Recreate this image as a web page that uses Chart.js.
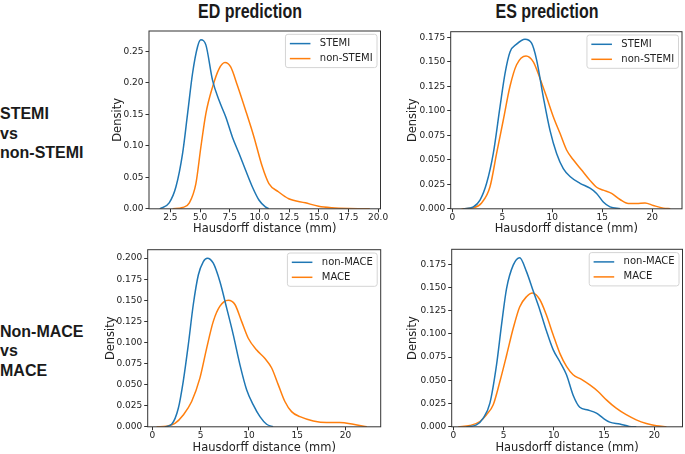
<!DOCTYPE html>
<html lang="en">
<head>
    <meta charset="UTF-8">
    <title>Hausdorff distance density</title>
    <script src="https://cdn.jsdelivr.net/npm/chart.js"></script>
    <style>
        html, body { margin: 0; padding: 0; background: #fff; overflow: hidden; }
        body { width: 685px; height: 454px; position: relative; }
        canvas { position: absolute; }
        .head {
            position: absolute; top: 0; white-space: nowrap;
            font: bold 19.5px "Liberation Sans", Arial, sans-serif; line-height: 22px; color: #1a1a1a;
            transform: translateX(-50%) scaleX(0.82);
        }
        .row {
            position: absolute; left: 0; white-space: nowrap;
            font: bold 16px "Liberation Sans", Arial, sans-serif; line-height: 19.5px; color: #1a1a1a;
        }
    </style>
</head>
<body>
    <div class="head" style="left:250px">ED prediction</div>
    <div class="head" style="left:547px">ES prediction</div>
    <div class="row" style="top:104px">STEMI<br>vs<br>non-STEMI</div>
    <div class="row" style="top:321.7px">Non-MACE<br>vs<br>MACE</div>

    <canvas id="edStemi"></canvas>
    <canvas id="esStemi"></canvas>
    <canvas id="edMace"></canvas>
    <canvas id="esMace"></canvas>

    <script>
        // ED, STEMI vs non-STEMI
        const edStemiX = [1.6, 2.4, 2.97, 3.53, 3.95, 4.37, 4.79, 5.07, 5.49, 6.05, 6.6, 7.16, 7.72, 8.28, 8.84, 9.4, 9.96, 10.5, 10.8];
        const edStemiY = [0, 0.0095, 0.035, 0.088, 0.151, 0.215, 0.257, 0.268, 0.26, 0.204, 0.172, 0.146, 0.114, 0.088, 0.061, 0.035, 0.014, 0.003, 0];
        const edNonStemiX = [2.7, 3.53, 4.1, 4.65, 5.07, 5.49, 6.05, 6.6, 7.1, 7.58, 8.14, 8.84, 9.54, 10.24, 10.8, 11.6, 12.47, 13.87, 14.99, 16.1, 17.5, 19.3];
        const edNonStemiY = [0, 0.002, 0.0095, 0.04, 0.098, 0.151, 0.193, 0.222, 0.232, 0.225, 0.196, 0.156, 0.114, 0.067, 0.04, 0.027, 0.016, 0.0095, 0.004, 0.0016, 0.0004, 0];

        // ES, STEMI vs non-STEMI
        const esStemiX = [1.1, 2.1, 2.77, 3.43, 4.1, 4.77, 5.27, 5.77, 6.43, 7.27, 7.93, 8.43, 9.1, 9.77, 10.43, 11.1, 11.77, 12.77, 13.77, 14.43, 15.1, 15.77, 16.8];
        const esStemiY = [0, 0.002, 0.0089, 0.026, 0.0565, 0.104, 0.138, 0.16, 0.168, 0.173, 0.169, 0.152, 0.114, 0.08, 0.0565, 0.041, 0.033, 0.026, 0.021, 0.0157, 0.007, 0.002, 0];
        const esNonStemiX = [0.93, 2.1, 2.93, 3.77, 4.43, 5.1, 5.77, 6.43, 7.37, 8.1, 8.77, 9.43, 10.1, 10.77, 11.43, 12.1, 12.93, 13.77, 14.43, 15.1, 15.93, 16.77, 17.6, 18.43, 19.27, 20.1, 21.1, 21.8];
        const esNonStemiY = [0, 0.001, 0.006, 0.0225, 0.0565, 0.0906, 0.125, 0.147, 0.156, 0.15, 0.133, 0.114, 0.094, 0.077, 0.06, 0.05, 0.0395, 0.029, 0.022, 0.019, 0.0157, 0.0095, 0.0054, 0.0054, 0.006, 0.0034, 0.0007, 0];

        // ED, non-MACE vs MACE
        const edNonMaceX = [1.3, 2.0, 2.69, 3.2, 3.72, 4.24, 4.76, 5.28, 5.69, 6.31, 7.0, 7.69, 8.38, 9.07, 9.76, 10.45, 11.14, 11.83, 12.5];
        const edNonMaceY = [0, 0.003, 0.022, 0.054, 0.097, 0.145, 0.18, 0.196, 0.2, 0.194, 0.172, 0.141, 0.109, 0.0735, 0.044, 0.026, 0.012, 0.003, 0];
        const edMaceX = [0.45, 1.48, 2.34, 3.2, 4.07, 4.93, 5.62, 6.31, 7.0, 7.86, 8.55, 9.24, 9.93, 10.8, 11.66, 12.34, 13.03, 13.72, 14.41, 15.28, 16.66, 18.03, 19.4, 20.8, 22.2];
        const edMaceY = [0, 0.0008, 0.004, 0.014, 0.03, 0.058, 0.093, 0.125, 0.143, 0.15, 0.145, 0.125, 0.105, 0.091, 0.081, 0.07, 0.05, 0.03, 0.018, 0.012, 0.007, 0.005, 0.005, 0.003, 0];

        // ES, non-MACE vs MACE
        const esNonMaceX = [1.3, 2.3, 2.98, 3.64, 4.3, 4.8, 5.3, 5.96, 6.6, 7.28, 7.95, 8.6, 9.27, 9.93, 10.6, 11.26, 11.92, 12.58, 13.4, 14.24, 14.9, 15.56, 16.56, 17.5, 18.2];
        const esNonMaceY = [0, 0.002, 0.0093, 0.0255, 0.0667, 0.11, 0.149, 0.174, 0.182, 0.167, 0.146, 0.126, 0.103, 0.083, 0.07, 0.056, 0.034, 0.021, 0.018, 0.0147, 0.0093, 0.005, 0.003, 0.0004, 0];
        const esMaceX = [0.5, 1.66, 2.65, 3.3, 3.97, 4.64, 5.3, 5.96, 6.6, 7.28, 7.88, 8.6, 9.27, 9.93, 10.6, 11.26, 11.92, 12.75, 13.58, 14.4, 15.23, 16.2, 17.2, 18.2, 19.2, 20.2, 21.2];
        const esMaceY = [0, 0.0014, 0.0057, 0.013, 0.0237, 0.049, 0.077, 0.106, 0.129, 0.14, 0.144, 0.137, 0.12, 0.099, 0.079, 0.065, 0.056, 0.051, 0.045, 0.038, 0.029, 0.02, 0.013, 0.0075, 0.0036, 0.0011, 0];

        const stemiLabels = ["STEMI", "non-STEMI"];
        const maceLabels = ["non-MACE", "MACE"];

        const edStemiXTicks = [2.5, 5, 7.5, 10, 12.5, 15, 17.5, 20];
        const wholeXTicks = [0, 5, 10, 15, 20];
        const edStemiYTicks = [0, 0.05, 0.10, 0.15, 0.20, 0.25];
        const esYTicks = [0, 0.025, 0.05, 0.075, 0.1, 0.125, 0.15, 0.175];
        const edMaceYTicks = [0, 0.025, 0.05, 0.075, 0.1, 0.125, 0.15, 0.175, 0.2];

        const BLUE = "#1f77b4", ORANGE = "#ff7f0e", INK = "#222";

        function pts(xs, ys) {
            return xs.map((x, i) => ({ x: x, y: ys[i] }));
        }

        // matplotlib style frame around the plot area
        const framePlugin = {
            id: "frame",
            afterDatasetsDraw(chart) {
                const a = chart.chartArea, ctx = chart.ctx;
                ctx.save();
                ctx.strokeStyle = "#333";
                ctx.lineWidth = 1;
                ctx.strokeRect(a.left, a.top, a.right - a.left, a.bottom - a.top);
                ctx.restore();
            }
        };

        // legend box drawn in the upper right corner of the plot
        const legendPlugin = {
            id: "cornerLegend",
            afterDraw(chart) {
                const a = chart.chartArea, ctx = chart.ctx;
                const sets = chart.data.datasets;
                ctx.save();
                ctx.font = '10px "DejaVu Sans"';
                const tw = Math.max(...sets.map(d => ctx.measureText(d.label).width));
                const w = 4.4 + 20.6 + 9.4 + tw + 4.4, h = 33.3;
                const x = a.right - 3.5 - w, y = a.top + 3.3;
                ctx.beginPath();
                ctx.roundRect(x, y, w, h, 2.5);
                ctx.fillStyle = "rgba(255,255,255,0.8)";
                ctx.fill();
                ctx.strokeStyle = "#d4d4d4";
                ctx.lineWidth = 1;
                ctx.stroke();
                sets.forEach((d, i) => {
                    const cy = y + 9.3 + 15 * i;
                    ctx.strokeStyle = d.borderColor;
                    ctx.lineWidth = 1.5;
                    ctx.beginPath();
                    ctx.moveTo(x + 4.4, cy);
                    ctx.lineTo(x + 25, cy);
                    ctx.stroke();
                    ctx.fillStyle = INK;
                    ctx.textBaseline = "middle";
                    ctx.fillText(d.label, x + 34.4, cy);
                });
                ctx.restore();
            }
        };

        function makePanel(id, box, series, labels, xr, xTicks, xDec, yMax, yTicks, yDec) {
            const cl = Math.round(box.ty - 6.9);
            const ct = Math.round(box.top - 8);
            const cw = Math.round(box.right + 14 - cl);
            const ch = Math.round(box.titleY + 6.9 - ct);
            const cv = document.getElementById(id);
            cv.width = cw; cv.height = ch;
            cv.style.left = cl + "px"; cv.style.top = ct + "px";
            const yW = box.left - cl;
            const xH = box.titleY + 6.9 - box.bottom;

            const font = { family: "DejaVu Sans", size: 9, lineHeight: 1 };
            const titleFont = { family: "DejaVu Sans", size: 11.5, lineHeight: 1.2 };

            new Chart(cv.getContext("2d"), {
                type: "line",
                data: {
                    datasets: [
                        { label: labels[0], data: pts(series[0], series[1]), borderColor: BLUE },
                        { label: labels[1], data: pts(series[2], series[3]), borderColor: ORANGE }
                    ]
                },
                options: {
                    responsive: false,
                    animation: false,
                    devicePixelRatio: 1,
                    layout: { padding: { left: 0, top: box.top - ct, right: cl + cw - box.right, bottom: 0 } },
                    elements: {
                        point: { radius: 0 },
                        line: { borderWidth: 1.5, cubicInterpolationMode: "monotone", fill: false }
                    },
                    plugins: { legend: { display: false }, tooltip: { enabled: false } },
                    scales: {
                        x: {
                            type: "linear", min: xr[0], max: xr[1],
                            afterBuildTicks: s => { s.ticks = xTicks.map(v => ({ value: v })); },
                            afterFit: s => { s.height = xH; },
                            ticks: { font: font, color: INK, padding: 1, maxRotation: 0, callback: v => v.toFixed(xDec) },
                            grid: { drawOnChartArea: false, drawTicks: true, tickLength: 3.5, color: "#333" },
                            border: { display: false },
                            title: { display: true, text: "Hausdorff distance (mm)", font: titleFont, color: INK, padding: 0 }
                        },
                        y: {
                            type: "linear", min: 0, max: yMax,
                            afterBuildTicks: s => { s.ticks = yTicks.map(v => ({ value: v })); },
                            afterFit: s => { s.width = yW; },
                            ticks: { font: font, color: INK, padding: 2, callback: v => v.toFixed(yDec) },
                            grid: { drawOnChartArea: false, drawTicks: true, tickLength: 3.5, color: "#333" },
                            border: { display: false },
                            title: { display: true, text: "Density", font: titleFont, color: INK, padding: 0 }
                        }
                    }
                },
                plugins: [framePlugin, legendPlugin]
            });
        }

        makePanel("edStemi", { left: 149, right: 380.5, top: 31, bottom: 208.7, ty: 118.3, titleY: 229 },
            [edStemiX, edStemiY, edNonStemiX, edNonStemiY], stemiLabels,
            [0.7, 20.2], edStemiXTicks, 1, 0.282, edStemiYTicks, 2);

        makePanel("esStemi", { left: 450.7, right: 682, top: 31.7, bottom: 208.7, ty: 413.3, titleY: 229 },
            [esStemiX, esStemiY, esNonStemiX, esNonStemiY], stemiLabels,
            [-0.16, 22.97], wholeXTicks, 0, 0.1807, esYTicks, 3);

        makePanel("edMace", { left: 147.7, right: 380.7, top: 249.7, bottom: 427, ty: 110.7, titleY: 448.3 },
            [edNonMaceX, edNonMaceY, edMaceX, edMaceY], maceLabels,
            [-0.48, 23.64], wholeXTicks, 0, 0.210, edMaceYTicks, 3);

        makePanel("esMace", { left: 451.7, right: 682.5, top: 249.3, bottom: 427, ty: 413.3, titleY: 448.3 },
            [esNonMaceX, esNonMaceY, esMaceX, esMaceY], maceLabels,
            [-0.16, 22.8], wholeXTicks, 0, 0.191, esYTicks, 3);
    </script>
</body>
</html>
